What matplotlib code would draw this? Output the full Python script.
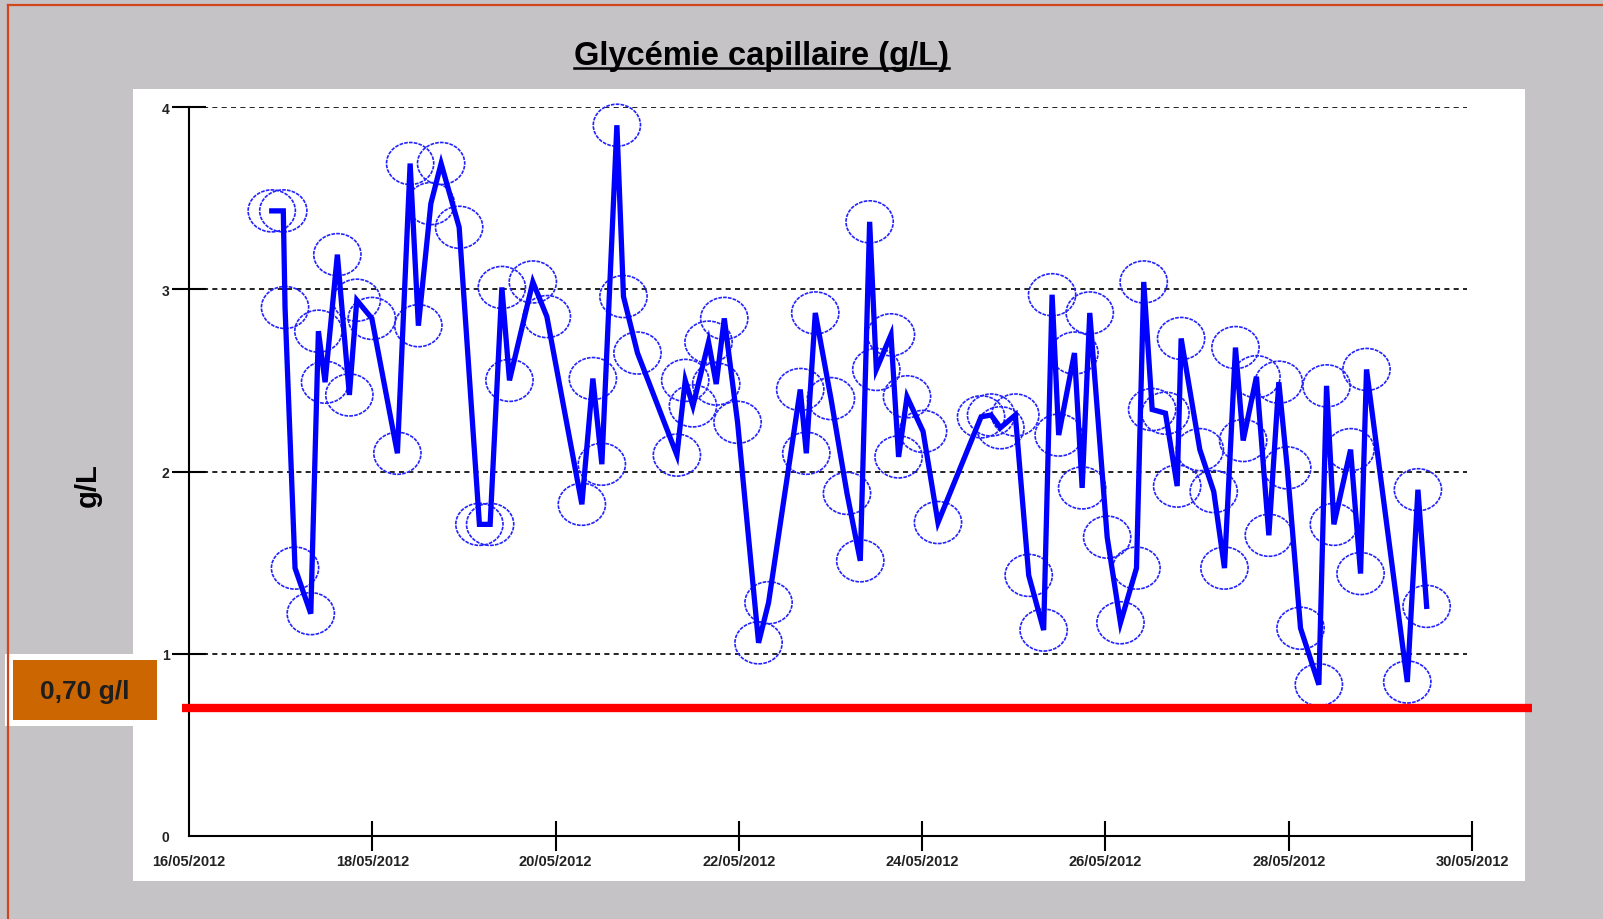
import numpy as np
import pandas as pd
import matplotlib
matplotlib.use("Agg")
import matplotlib.pyplot as plt
import matplotlib.dates as mdates
from matplotlib.path import Path
from matplotlib.patches import Rectangle
from matplotlib.lines import Line2D
import matplotlib.transforms as mtransforms

# ---------------- data ----------------
start_date = "2012-05-16"
# measurement times, in days after 16/05/2012 00:00
day_offsets = [
    0.903, 1.029, 1.048, 1.157, 1.329, 1.412, 1.485, 1.619, 1.750, 1.831,
    1.995, 2.274, 2.413, 2.503, 2.639, 2.751, 2.948, 3.169, 3.286, 3.414,
    3.497, 3.752, 3.905, 4.287, 4.407, 4.505, 4.669, 4.741, 4.894, 5.324,
    5.415, 5.499, 5.669, 5.753, 5.841, 5.986, 6.215, 6.324, 6.670, 6.736,
    6.834, 7.005, 7.180, 7.325, 7.427, 7.500, 7.660, 7.743, 7.835, 8.010,
    8.173, 8.643, 8.752, 8.854, 9.017, 9.163, 9.326, 9.418, 9.490, 9.662,
    9.746, 9.829, 10.019, 10.164, 10.339, 10.418, 10.510, 10.655, 10.783, 10.826,
    11.030, 11.182, 11.299, 11.419, 11.503, 11.648, 11.783, 11.892, 11.984, 12.129,
    12.329, 12.413, 12.493, 12.675, 12.784, 12.849, 13.294, 13.410, 13.505,
]
glycemie = [
    3.43, 3.43, 2.90, 1.47, 1.22, 2.77, 2.49, 3.19, 2.42, 2.94,
    2.84, 2.10, 3.69, 2.80, 3.47, 3.69, 3.34, 1.71, 1.71, 3.01,
    2.50, 3.04, 2.85, 1.82, 2.51, 2.04, 3.90, 2.96, 2.65, 2.09,
    2.50, 2.36, 2.71, 2.48, 2.84, 2.27, 1.06, 1.28, 2.45, 2.10,
    2.87, 2.40, 1.88, 1.51, 3.37, 2.56, 2.75, 2.08, 2.41, 2.22,
    1.72, 2.30, 2.31, 2.24, 2.31, 1.43, 1.13, 2.97, 2.20, 2.65,
    1.91, 2.87, 1.64, 1.17, 1.47, 3.04, 2.34, 2.32, 1.92, 2.73,
    2.12, 1.89, 1.47, 2.68, 2.17, 2.52, 1.65, 2.49, 2.02, 1.14,
    0.83, 2.47, 1.71, 2.12, 1.44, 2.56, 0.845, 1.90, 1.26,
]
tick_dates = ["2012-05-16", "2012-05-18", "2012-05-20", "2012-05-22",
              "2012-05-24", "2012-05-26", "2012-05-28", "2012-05-30"]
y_ticks = [0, 1, 2, 3, 4]
grid_levels = [1, 2, 3, 4]
threshold = 0.70
threshold_label = "0,70 g/l"
title_text = "Glycémie capillaire (g/L)"
ylabel_text = "g/L"

# ---------------- figure ----------------
W, H = 1603, 920
fig = plt.figure(figsize=(W / 100, H / 100), dpi=100)
fig.patch.set_facecolor("#C5C3C6")


def px_rect(x0, y0, x1, y1, **kw):
    fig.add_artist(Rectangle((x0 / W, 1 - y1 / H), (x1 - x0) / W, (y1 - y0) / H,
                             transform=fig.transFigure, **kw))


border_col = "#D2461E"
fig.add_artist(Line2D([8 / W, 1], [1 - 6 / H, 1 - 6 / H], transform=fig.transFigure,
                      color=border_col, lw=1.6))
fig.add_artist(Line2D([8 / W, 8 / W], [0, 1 - 6 / H], transform=fig.transFigure,
                      color=border_col, lw=1.6))
px_rect(133, 90, 1525, 882, facecolor="white", edgecolor="none", zorder=0)
px_rect(5, 655, 160, 727, facecolor="white", edgecolor="none", zorder=1)

ax = fig.add_axes([189 / W, 1 - 837 / H, 1283 / W, 729 / H])
ax.patch.set_visible(False)

times = pd.Timestamp(start_date) + pd.to_timedelta(day_offsets, unit="D")
xnum = mdates.date2num(times.to_pydatetime())
tick_num = mdates.date2num(pd.to_datetime(tick_dates).to_pydatetime())

ax.set_xlim(tick_num[0], tick_num[-1])
ax.set_ylim(0, 4)

# grid
for g in grid_levels:
    ax.axhline(g, xmin=0.011, xmax=0.996, color="#222222", lw=1.4,
               linestyle=(0, (2.6, 2.2)), zorder=1)

# markers (ellipses)
uc = Path.unit_circle()
ell = Path(uc.vertices * np.array([1.0, 0.89]), uc.codes)
ax.scatter(xnum, glycemie, s=34 ** 2, marker=ell, facecolors="none",
           edgecolors="#2222FF", linewidths=1.2, linestyles=(0, (2.2, 0.7)),
           zorder=3, clip_on=False)
ax.plot(xnum, glycemie, color="#0000FF", lw=3.8, solid_joinstyle="miter",
        zorder=4, clip_on=False)

# threshold line
trans = mtransforms.blended_transform_factory(ax.transAxes, ax.transData)
ax.plot([-0.0055, 1.0468], [threshold, threshold], transform=trans, color="#FF0000",
        lw=6.0, solid_capstyle="butt", clip_on=False, zorder=5)

# spines / ticks
for s in ["top", "right"]:
    ax.spines[s].set_visible(False)
for s in ["left", "bottom"]:
    ax.spines[s].set_linewidth(1.5)
    ax.spines[s].set_color("black")

ax.set_xticks(tick_num)
ax.set_xticklabels([pd.Timestamp(d).strftime("%d/%m/%Y") for d in tick_dates])
ax.set_yticks(y_ticks)
ax.set_yticklabels([str(v) for v in y_ticks])
ax.tick_params(axis="x", direction="inout", length=22, width=1.5, pad=2)
ax.tick_params(axis="y", direction="inout", length=24, width=1.5, pad=2)
for lab in ax.get_xticklabels():
    lab.set_fontfamily("Liberation Sans")
    lab.set_fontweight("bold")
    lab.set_fontsize(10.5)
    lab.set_color("#222222")
for lab in ax.get_yticklabels():
    lab.set_fontfamily("Liberation Sans")
    lab.set_fontweight("bold")
    lab.set_fontsize(10)
    lab.set_color("#222222")
ax.xaxis.get_major_ticks()[0].tick1line.set_visible(False)
ax.yaxis.get_major_ticks()[0].tick1line.set_visible(False)

# threshold box
px_rect(13, 661, 157, 721, facecolor="#CC6600", edgecolor="none", zorder=2)
fig.text(85 / W, 1 - 692 / H, threshold_label, ha="center", va="center",
         fontsize=19, fontweight="bold", family="Liberation Sans", color="#1E1E1E", zorder=6)

# y label
fig.text(88 / W, 1 - 485 / H, ylabel_text, rotation=90, ha="center", va="center",
         fontsize=21, fontweight="bold", family="Liberation Sans", color="black")

# title with underline
t = fig.text(761 / W, 1 - 65.5 / H, title_text, ha="center", va="baseline",
             fontsize=23.5, fontweight="bold", family="Liberation Sans", color="black")
fig.canvas.draw()
bb = t.get_window_extent()
yline = 1 - 69 / H
fig.add_artist(Line2D([bb.x0 / W, bb.x1 / W], [yline, yline], transform=fig.transFigure,
                      color="black", lw=1.8))

fig.savefig("out.png", dpi=100, facecolor=fig.get_facecolor())
